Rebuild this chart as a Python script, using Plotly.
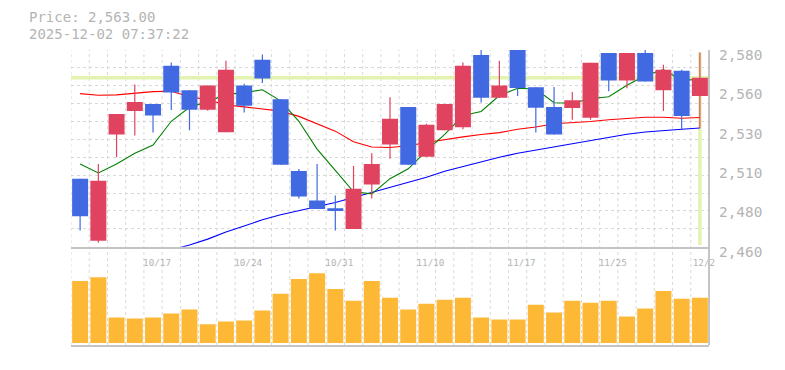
import plotly.graph_objects as go

# ---------------- data ----------------
dates = ["10/10", "10/14", "10/15", "10/16", "10/17", "10/20", "10/21", "10/22", "10/23", "10/24",
         "10/27", "10/28", "10/29", "10/30", "10/31", "11/4", "11/5", "11/6", "11/7", "11/10",
         "11/11", "11/12", "11/13", "11/14", "11/17", "11/18", "11/19", "11/20", "11/21", "11/25",
         "11/26", "11/27", "11/28", "12/1", "12/2"]

opens = [2501.4, 2463.6, 2528.4, 2542.8, 2547.0, 2570.4, 2555.4, 2543.6, 2529.8, 2558.4,
         2574.0, 2550.0, 2506.2, 2488.2, 2483.4, 2470.8, 2498.0, 2522.4, 2545.2, 2514.8,
         2531.0, 2532.8, 2577.0, 2550.8, 2581.0, 2557.2, 2545.2, 2544.6, 2538.6, 2578.2,
         2561.4, 2578.2, 2555.4, 2567.4, 2552.0]
highs = [2501.4, 2510.4, 2541.0, 2559.0, 2547.0, 2572.4, 2555.4, 2558.4, 2573.4, 2559.4,
         2577.2, 2550.0, 2507.4, 2510.4, 2491.2, 2509.2, 2517.0, 2551.2, 2545.2, 2535.0,
         2547.0, 2572.4, 2580.0, 2573.4, 2581.0, 2557.2, 2557.4, 2554.4, 2572.2, 2578.2,
         2578.2, 2580.0, 2571.0, 2568.0, 2578.4]
lows = [2469.8, 2462.4, 2514.6, 2527.8, 2529.6, 2543.4, 2531.0, 2543.0, 2529.8, 2541.8,
        2559.8, 2510.0, 2489.4, 2483.0, 2469.8, 2470.8, 2489.4, 2513.6, 2510.0, 2514.8,
        2531.0, 2531.6, 2548.0, 2550.8, 2552.0, 2529.6, 2528.4, 2537.4, 2537.4, 2554.8,
        2556.6, 2560.8, 2542.8, 2531.4, 2532.4]
closes = [2478.6, 2500.2, 2541.0, 2548.2, 2540.0, 2554.0, 2543.6, 2558.4, 2568.0, 2546.0,
          2562.6, 2510.0, 2490.6, 2483.0, 2481.8, 2495.4, 2510.4, 2538.0, 2510.0, 2534.4,
          2547.0, 2570.4, 2550.8, 2558.4, 2556.8, 2544.8, 2528.4, 2549.4, 2572.2, 2561.4,
          2578.2, 2560.8, 2568.0, 2539.8, 2563.0]

volume = [189, 201, 78, 75, 78, 90, 102, 57, 66, 69,
          99, 150, 195, 213, 165, 129, 189, 138, 102, 120,
          132, 138, 78, 72, 72, 117, 93, 129, 123, 129,
          81, 105, 159, 135, 138]

ma_short = [2510.4, 2505.0, 2510.5, 2517.0, 2522.0, 2536.5, 2545.0, 2548.5, 2552.8, 2554.0,
            2555.7, 2549.0, 2536.5, 2519.5, 2506.5, 2493.5, 2492.2, 2501.5, 2507.5, 2518.5,
            2528.5, 2540.0, 2542.5, 2552.2, 2556.7, 2556.2, 2547.8, 2547.6, 2550.3, 2551.5,
            2558.5, 2564.4, 2568.0, 2561.6, 2562.0]
ma_mid = [2553.4, 2552.4, 2552.6, 2553.6, 2554.6, 2554.8, 2551.5, 2549.6, 2546.5, 2545.3,
          2544.2, 2542.7, 2539.5, 2535.0, 2530.5, 2524.0, 2520.8, 2520.5, 2521.6, 2523.6,
          2525.4, 2527.0, 2528.4, 2529.6, 2531.6, 2533.0, 2535.0, 2535.6, 2536.4, 2537.4,
          2538.0, 2539.0, 2539.0, 2538.4, 2538.8]
ma_long = [None, None, None, None, None, 2458.0, 2461.0, 2464.6, 2469.0, 2472.6,
           2476.4, 2479.5, 2482.0, 2484.4, 2487.0, 2490.0, 2493.0, 2496.0, 2499.4, 2502.4,
           2506.0, 2509.0, 2512.0, 2514.6, 2517.0, 2519.0, 2521.0, 2523.0, 2525.0, 2527.0,
           2528.6, 2530.0, 2531.0, 2531.6, 2532.4]

x_tick_labels = ["10/17", "10/24", "10/31", "11/10", "11/17", "11/25", "12/2"]
price_ticks = [2460, 2484, 2508, 2532, 2556, 2580]
price_tick_text = ["2,460", "2,480", "2,510", "2,530", "2,560", "2,580"]
last_price = 2563.0
title_line1 = "Price: 2,563.00"
title_line2 = "2025-12-02 07:37:22"

# ---------------- styles ----------------
UP = "#E0435F"
DOWN = "#4169E1"
VOL = "#FDB935"
GRID = "#d9d9d9"
AXIS = "#c4c4c4"
TXT = "#b4b4b4"
HILITE = "#e3f3b0"
MONO = "DejaVu Sans Mono"

# page body has an 8px margin: figure is 777x362 placed at (8, 8)
FIG_W, FIG_H = 777, 362
M_L, M_T, PLOT_W, PLOT_H = 63, 42, 638, 300
PAGE_OFF = 8

idx = list(range(len(dates)))
n = len(idx)
ymin, ymax = price_ticks[0], price_ticks[-1]

fig = go.Figure()

# moving averages (main price subplot, drawn below candles)
for ma, col in [(ma_long, "#0000ff"), (ma_mid, "#ff0000"), (ma_short, "#008000")]:
    fig.add_trace(go.Scatter(x=idx, y=ma, mode="lines", line=dict(color=col, width=1.1),
                             xaxis="x", yaxis="y", hoverinfo="skip"))

# candles on overlay axis (drawn above the MA lines)
is_up = [c >= o for o, c in zip(opens, closes)]
colors = [UP if u else DOWN for u in is_up]
for flag, col in [(True, UP), (False, DOWN)]:
    wx, wy = [], []
    for i in idx:
        if is_up[i] == flag:
            wx += [i, i, None]
            wy += [lows[i], highs[i], None]
    fig.add_trace(go.Scatter(x=wx, y=wy, mode="lines", line=dict(color=col, width=1.2),
                             xaxis="x", yaxis="y3", hoverinfo="skip"))
fig.add_trace(go.Bar(x=idx, y=[abs(c - o) for o, c in zip(opens, closes)],
                     base=[min(o, c) for o, c in zip(opens, closes)],
                     width=0.877, marker=dict(color=colors, line=dict(width=0)),
                     xaxis="x", yaxis="y3", hoverinfo="skip"))

# volume
fig.add_trace(go.Bar(x=idx, y=volume, width=0.877, marker=dict(color=VOL, line=dict(width=0)),
                     xaxis="x2", yaxis="y2", hoverinfo="skip"))

shapes = []
for k in range(n + 1):
    shapes.append(dict(type="line", xref="x", yref="paper", x0=k - 0.5, x1=k - 0.5, y0=0, y1=1,
                       line=dict(color=GRID, width=1, dash="3px,3px"), layer="below"))
shapes.append(dict(type="line", xref="x", yref="y", x0=-0.5, x1=n - 0.5, y0=last_price, y1=last_price,
                   line=dict(color=HILITE, width=3.5), layer="between"))
shapes.append(dict(type="line", xref="x", yref="y", x0=n - 1, x1=n - 1, y0=ymin + 1, y1=ymax - 1.5,
                   line=dict(color=HILITE, width=3.5), layer="between"))
shapes.append(dict(type="line", xref="paper", yref="paper", x0=1, x1=1, y0=0, y1=1,
                   line=dict(color=AXIS, width=2), layer="above"))

minor_y = [ymin + (ymax - ymin) * j / 11 for j in range(1, 12)]


def page_y_to_paper(py):
    # page pixel y (from top of browser window) -> paper fraction
    fy = py - PAGE_OFF
    return (M_T + PLOT_H - fy) / PLOT_H


ann_x = (20 - M_L) / PLOT_W
fig.update_layout(
    width=FIG_W, height=FIG_H,
    margin=dict(l=M_L, r=FIG_W - M_L - PLOT_W, t=M_T, b=FIG_H - M_T - PLOT_H),
    paper_bgcolor="white", plot_bgcolor="white",
    showlegend=False, barmode="overlay",
    font=dict(family=MONO, color=TXT),
    shapes=shapes,
    xaxis=dict(domain=[0, 1], anchor="y", range=[-0.5, n - 0.5], showgrid=False, zeroline=False,
               showline=True, linecolor=AXIS, linewidth=2,
               tickmode="array", tickvals=[dates.index(t) + 0.22 for t in x_tick_labels],
               ticktext=x_tick_labels, ticks="", ticklabelstandoff=6,
               tickfont=dict(family=MONO, size=9.3, color=TXT)),
    yaxis=dict(domain=[1 / 3, 1], anchor="x", range=[ymin, ymax], side="right",
               tickmode="array", tickvals=price_ticks, ticktext=price_tick_text,
               showgrid=False, zeroline=False, showline=False, ticks="",
               ticklabelstandoff=9, ticklabelshift=5,
               tickfont=dict(family=MONO, size=14.4, color=TXT),
               minor=dict(tickmode="array", tickvals=minor_y, showgrid=True, gridcolor=GRID,
                          griddash="3px,3px", gridwidth=1, ticks="")),
    yaxis3=dict(overlaying="y", anchor="x", range=[ymin, ymax], visible=False, side="right"),
    xaxis2=dict(domain=[0, 1], anchor="y2", matches="x", range=[-0.5, n - 0.5], showgrid=False,
                zeroline=False, showticklabels=False, showline=True, linecolor=AXIS, linewidth=2,
                ticks=""),
    yaxis2=dict(domain=[0, 0.8 / 3], anchor="x2", range=[-6, 234], showgrid=False, zeroline=False,
                showticklabels=False, showline=False, ticks=""),
    annotations=[
        dict(text=title_line1, xref="paper", yref="paper", x=ann_x, y=page_y_to_paper(16.8),
             xanchor="left", yanchor="middle", showarrow=False, borderpad=0,
             font=dict(family=MONO, size=14, color=TXT)),
        dict(text=title_line2, xref="paper", yref="paper", x=ann_x, y=page_y_to_paper(33.6),
             xanchor="left", yanchor="middle", showarrow=False, borderpad=0,
             font=dict(family=MONO, size=14, color=TXT)),
    ],
)

fig.write_html("out.html")
